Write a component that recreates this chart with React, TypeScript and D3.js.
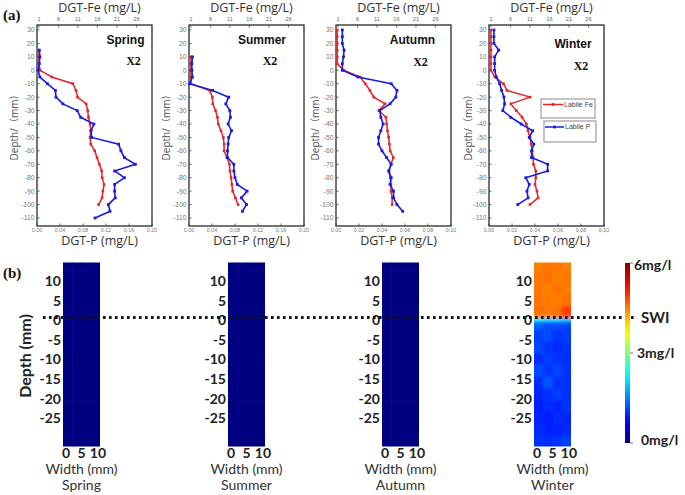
import React from "react";
import * as d3 from "d3";

// ---------- DATA (panel a) ----------
const springPDepth = [15, 10, 5, 0, -5, -10, -15, -20, -25, -30, -35, -40, -45, -50, -55, -60, -65, -70, -75, -80, -85, -90, -95, -100, -105, -110];
const springP = [0.004, 0.005, 0.004, 0.002, 0.005, 0.018, 0.032, 0.033, 0.045, 0.070, 0.076, 0.099, 0.094, 0.095, 0.142, 0.146, 0.152, 0.171, 0.135, 0.152, 0.135, 0.135, 0.136, 0.124, 0.127, 0.101];
const springFeDepth = [15, 10, 5, 0, -5, -10, -15, -20, -25, -30, -35, -40, -45, -50, -55, -60, -65, -70, -75, -80, -85, -90, -95, -100];
const springFe = [1.0, 1.0, 1.0, 1.3, 4.3, 9.7, 10.5, 10.9, 13.1, 13.5, 13.7, 14.1, 14.3, 14.1, 14.3, 15.3, 15.9, 16.5, 17.1, 17.2, 17.7, 17.4, 17.2, 16.3];

const summerPDepth = [10, 5, 0, -5, -10, -15, -20, -25, -30, -35, -40, -45, -50, -55, -60, -65, -70, -75, -80, -85, -90, -95, -100, -105];
const summerP = [0.006, 0.005, 0.005, 0.006, 0.001, 0.041, 0.069, 0.064, 0.071, 0.072, 0.068, 0.074, 0.069, 0.068, 0.067, 0.067, 0.078, 0.078, 0.080, 0.084, 0.101, 0.091, 0.100, 0.093];
const summerFeDepth = [10, 5, 0, -5, -10, -15, -20, -25, -30, -35, -40, -45, -50, -55, -60, -65, -70, -75, -80, -85, -90, -95, -100];
const summerFe = [1.0, 1.0, 1.0, 1.0, 1.0, 5.8, 6.5, 6.6, 7.3, 7.8, 8.0, 8.7, 9.3, 9.5, 9.5, 10.2, 10.9, 11.0, 11.3, 11.5, 11.7, 12.4, 13.1];

const autumnPDepth = [30, 25, 20, 15, 10, 5, 0, -5, -10, -15, -20, -25, -30, -35, -40, -45, -50, -55, -60, -65, -70, -75, -80, -85, -90, -95, -100, -105];
const autumnP = [0.0055, 0.0055, 0.0055, 0.007, 0.0065, 0.0055, 0.0055, 0.019, 0.048, 0.053, 0.052, 0.047, 0.038, 0.039, 0.041, 0.039, 0.037, 0.037, 0.040, 0.044, 0.048, 0.046, 0.048, 0.047, 0.050, 0.050, 0.053, 0.058];
const autumnFeDepth = [30, 25, 20, 15, 10, 5, 0, -5, -10, -15, -20, -25, -30, -35, -40, -45, -50, -55, -60, -65, -70, -75, -80, -85, -90, -95, -100];
const autumnFe = [0.8, 0.8, 0.8, 0.8, 0.8, 0.8, 2.5, 6.7, 8.0, 9.2, 10.2, 13.1, 11.5, 13.3, 13.5, 13.7, 14.0, 14.2, 14.4, 15.2, 14.6, 14.0, 14.4, 14.6, 14.6, 14.9, 14.9];

const winterPDepth = [30, 25, 20, 15, 10, 5, 0, -5, -10, -15, -20, -25, -30, -35, -40, -45, -50, -55, -60, -65, -70, -75, -80, -85, -90, -95, -100];
const winterP = [0.0043, 0.0043, 0.0043, 0.0084, 0.0049, 0.0049, 0.0049, 0.0064, 0.0093, 0.011, 0.013, 0.0136, 0.012, 0.019, 0.028, 0.038, 0.035, 0.039, 0.037, 0.037, 0.051, 0.051, 0.032, 0.035, 0.033, 0.034, 0.025];
const winterFeDepth = [30, 25, 20, 15, 10, 5, 0, -5, -10, -15, -20, -25, -30, -35, -40, -45, -50, -55, -60, -65, -70, -75, -80, -85, -90, -95, -100];
const winterFe = [1.0, 1.0, 1.0, 1.0, 1.0, 1.0, 1.0, 2.0, 4.2, 5.1, 11.0, 6.1, 7.5, 9.0, 10.1, 10.5, 11.0, 11.3, 11.6, 11.8, 11.9, 12.5, 12.5, 12.3, 12.8, 13.1, 11.0];

const seasons = ["Spring", "Summer", "Autumn", "Winter"];
const depthTicksA = [30, 20, 10, 0, -10, -20, -30, -40, -50, -60, -70, -80, -90, -100, -110];
const feTicks = [1, 6, 11, 16, 21, 26];
const pTicksWide = [0, 0.04, 0.08, 0.12, 0.16, 0.2];
const pTicksNarrow = [0, 0.02, 0.04, 0.06, 0.08, 0.1];
const legendLabels = ["Labile Fe", "Labile P"];

// ---------- DATA (panel b) ----------
const depthTicksB = [10, 5, 0, -5, -10, -15, -20, -25];
const widthTicks = [0, 5, 10];
const colorTicks = [0, 3, 6];
const colorTickLabels = ["0mg/l", "3mg/l", "6mg/l"];
const imageColEdges = [-1, 2, 5, 8, 11];
const imageRowEdges = [14.2, 12, 9, 6, 3, 1, 0, -1, -3, -6, -9, -12, -15, -18, -21, -24, -27, -30, -32.8];
const zeroGrid = [[0, 0, 0, 0], [0, 0, 0, 0], [0, 0, 0, 0], [0, 0, 0, 0], [0, 0, 0, 0], [0, 0, 0, 0], [0, 0, 0, 0], [0, 0, 0, 0], [0, 0, 0, 0], [0, 0, 0, 0], [0, 0, 0, 0], [0, 0, 0, 0], [0, 0, 0, 0], [0, 0, 0, 0], [0, 0, 0, 0], [0, 0, 0, 0], [0, 0, 0, 0], [0, 0, 0, 0]];
const winterGrid = [
  [4.5, 4.55, 4.55, 4.5],
  [4.55, 4.6, 4.5, 4.55],
  [4.55, 4.5, 4.6, 4.5],
  [4.55, 4.55, 4.5, 4.6],
  [4.6, 4.55, 4.6, 4.9],
  [4.5, 4.5, 4.55, 4.8],
  [2.1, 2.0, 2.0, 1.9],
  [1.3, 1.2, 1.2, 1.15],
  [1.1, 1.2, 1.05, 1.1],
  [1.15, 1.05, 1.0, 1.05],
  [1.0, 1.1, 1.05, 1.0],
  [1.2, 1.05, 1.15, 1.05],
  [1.0, 1.25, 1.05, 1.05],
  [0.95, 1.05, 1.1, 1.05],
  [0.9, 1.0, 0.95, 1.05],
  [0.95, 0.9, 1.0, 0.95],
  [1.0, 0.95, 0.95, 1.0],
  [1.05, 1.0, 1.05, 1.1],
];
const gridsB = [zeroGrid, zeroGrid, zeroGrid, winterGrid];

// ---------- LAYOUT ----------
const RED = "#e2262a";
const BLUE = "#1c1cdc";
const layoutA = [
  { left: 37, labX: 125.5, labY: 40, x2Y: 61, pTicks: pTicksWide, ylabX: 14 },
  { left: 189, labX: 262, labY: 40, x2Y: 61, pTicks: pTicksWide, ylabX: 166 },
  { left: 336, labX: 412.5, labY: 40, x2Y: 62, pTicks: pTicksNarrow, ylabX: 315 },
  { left: 489, labX: 573, labY: 44, x2Y: 66, pTicks: pTicksNarrow, ylabX: 468 },
];
const seriesA = [
  { p: [springPDepth, springP], fe: [springFeDepth, springFe] },
  { p: [summerPDepth, summerP], fe: [summerFeDepth, summerFe] },
  { p: [autumnPDepth, autumnP], fe: [autumnFeDepth, autumnFe] },
  { p: [winterPDepth, winterP], fe: [winterFeDepth, winterFe] },
];
const boxW = 115;
const boxTop = 25;
const boxBot = 226;
const rectLeftsB = [63, 228, 382, 534];

const jet = (t: number) => {
  const c = (x: number) => Math.max(0, Math.min(1, x));
  const r = c(1.5 - Math.abs(4 * t - 3));
  const g = c(1.5 - Math.abs(4 * t - 2));
  const b = c(1.5 - Math.abs(4 * t - 1));
  return d3.rgb(r * 255, g * 255, b * 255).formatHex();
};

const SANS = "'Liberation Sans', Arial, sans-serif";
const CAL = "Lato, 'Open Sans', sans-serif";

function PanelA({ i }: { i: number }) {
  const L = layoutA[i];
  const S = seriesA[i];
  const yA = d3.scaleLinear().domain([30, -110]).range([30, 218]);
  const xFe = d3.scaleLinear().domain([0.5, 30]).range([L.left, L.left + boxW]);
  const pMax = L.pTicks[L.pTicks.length - 1];
  const xP = d3.scaleLinear().domain([0, pMax]).range([L.left, L.left + boxW]);
  const ptsP = S.p[0].map((d, k) => ({ d, v: S.p[1][k] }));
  const ptsFe = S.fe[0].map((d, k) => ({ d, v: S.fe[1][k] }));
  const lineP = d3.line<any>().x((q) => xP(q.v)).y((q) => yA(q.d));
  const lineFe = d3.line<any>().x((q) => xFe(q.v)).y((q) => yA(q.d));
  const cx = L.left + boxW / 2 + 5;
  return (
    <g>
      <rect x={L.left} y={boxTop} width={boxW} height={boxBot - boxTop} fill="white" stroke="#2a2a2a" strokeWidth={1.3} />
      {depthTicksA.map((t) => (
        <g key={"dy" + t}>
          <line x1={L.left} x2={L.left + 2.5} y1={yA(t)} y2={yA(t)} stroke="#444" strokeWidth={0.8} />
          <text x={L.left - 2.5} y={yA(t)} dy="0.35em" textAnchor="end" fontSize={6.8} fill="#777" fontFamily={SANS}>{t}</text>
        </g>
      ))}
      {feTicks.map((t) => (
        <g key={"fe" + t}>
          <line x1={xFe(t)} x2={xFe(t)} y1={boxTop} y2={boxTop + 2.5} stroke="#444" strokeWidth={0.8} />
          <text x={xFe(t)} y={21} textAnchor="middle" fontSize={5.6} fill="#666" fontFamily={SANS}>{t}</text>
        </g>
      ))}
      {L.pTicks.map((t) => (
        <g key={"p" + t}>
          <line x1={xP(t)} x2={xP(t)} y1={boxBot} y2={boxBot - 2.5} stroke="#444" strokeWidth={0.8} />
          <text x={xP(t)} y={232} textAnchor="middle" fontSize={5.3} fill="#777" fontFamily={SANS}>{t.toFixed(2)}</text>
        </g>
      ))}
      <text x={cx} y={12} textAnchor="middle" fontSize={12.5} fill="#333" fontFamily="'Open Sans', sans-serif">DGT-Fe (mg/L)</text>
      <text x={cx} y={245} textAnchor="middle" fontSize={12.5} fill="#333" fontFamily="'Open Sans', sans-serif">DGT-P (mg/L)</text>
      <text transform={`translate(${L.ylabX},125) rotate(-90)`} textAnchor="middle" dy="0.35em" fontSize={10} fill="#555" fontFamily="'Open Sans', 'Noto Sans CJK SC', sans-serif">Depth/（mm）</text>
      <path d={lineFe(ptsFe) || ""} fill="none" stroke={RED} strokeWidth={1.5} />
      {ptsFe.map((q, k) => (
        <rect key={"fm" + k} x={xFe(q.v) - 1.3} y={yA(q.d) - 1.3} width={2.6} height={2.6} fill={RED} />
      ))}
      <path d={lineP(ptsP) || ""} fill="none" stroke={BLUE} strokeWidth={1.6} />
      {ptsP.map((q, k) => (
        <rect key={"pm" + k} x={xP(q.v) - 1.4} y={yA(q.d) - 1.4} width={2.8} height={2.8} fill={BLUE} />
      ))}
      <text x={L.labX} y={L.labY} dy="0.35em" textAnchor="middle" fontSize={12} fontWeight="bold" fill="#111" fontFamily={SANS}>{seasons[i]}</text>
      <text x={L.labX + 8} y={L.x2Y} dy="0.35em" textAnchor="middle" fontSize={12} fontWeight="bold" fill="#111" fontFamily="'Liberation Serif', 'Times New Roman', serif">X2</text>
    </g>
  );
}

function Legend() {
  const items = [
    { label: legendLabels[0], color: RED, bx: 541, by: 99, bw: 54, bh: 19, ly: 104.5, lx1: 543, lx2: 563 },
    { label: legendLabels[1], color: BLUE, bx: 544, by: 121, bw: 52, bh: 21, ly: 127, lx1: 545, lx2: 564 },
  ];
  return (
    <g>
      {items.map((it) => (
        <g key={it.label}>
          <rect x={it.bx} y={it.by} width={it.bw} height={it.bh} fill="white" stroke="#8a8a8a" strokeWidth={1} />
          <line x1={it.lx1} x2={it.lx2} y1={it.ly} y2={it.ly} stroke={it.color} strokeWidth={1.5} />
          <rect x={(it.lx1 + it.lx2) / 2 - 1.4} y={it.ly - 1.4} width={2.8} height={2.8} fill={it.color} />
          <text x={it.lx2 + 1} y={it.ly} dy="0.35em" fontSize={7} fill="#444" fontFamily={SANS}>{it.label}</text>
        </g>
      ))}
    </g>
  );
}

function PanelB({ i }: { i: number }) {
  const left = rectLeftsB[i];
  const yB = d3.scaleLinear().domain([14.2, -32.8]).range([262.5, 446.5]);
  const xB = d3.scaleLinear().domain([-1, 11]).range([left, left + 37]);
  const grid = gridsB[i];
  const clipId = "clipB" + i;
  return (
    <g>
      <defs>
        <clipPath id={clipId}>
          <rect x={xB(-1)} y={yB(14.2)} width={xB(11) - xB(-1)} height={yB(-32.8) - yB(14.2)} />
        </clipPath>
        <filter id={"blur" + i} x="-10%" y="-10%" width="120%" height="120%">
          <feGaussianBlur stdDeviation={1.6} />
        </filter>
      </defs>
      <g clipPath={`url(#${clipId})`}>
        <g filter={i === 3 ? `url(#blur${i})` : undefined}>
          {grid.map((row, r) =>
            row.map((v, c) => (
              <rect
                key={r + "-" + c}
                x={xB(imageColEdges[c]) - (c === 0 ? 3 : 0)}
                y={yB(imageRowEdges[r]) - (r === 0 ? 3 : 0)}
                width={xB(imageColEdges[c + 1]) - xB(imageColEdges[c]) + 0.6 + (c === 0 || c === row.length - 1 ? 3 : 0)}
                height={yB(imageRowEdges[r + 1]) - yB(imageRowEdges[r]) + 0.6 + (r === 0 || r === grid.length - 1 ? 3 : 0)}
                fill={jet(v / 6)}
              />
            ))
          )}
        </g>
      </g>
      {depthTicksB.map((t) => (
        <text key={t} x={left - 2} y={yB(t) + 2.3} dy="0.35em" textAnchor="end" fontSize={14} fontWeight="bold" fill="#222" fontFamily={CAL}>{t}</text>
      ))}
      {widthTicks.map((t) => (
        <text key={"w" + t} x={xB(t) + (t === 10 ? 1 : 0)} y={458} textAnchor="middle" fontSize={14} fontWeight="bold" fill="#222" fontFamily={CAL}>{t}</text>
      ))}
      <text x={xB(5)} y={469.5} dy="0.35em" textAnchor="middle" fontSize={14} fill="#333" fontFamily={CAL}>Width (mm)</text>
      <text x={xB(5)} y={485.5} dy="0.35em" textAnchor="middle" fontSize={14} fill="#333" fontFamily={CAL}>{seasons[i]}</text>
    </g>
  );
}

function ColorBar() {
  const yC = d3.scaleLinear().domain([0, 6]).range([443, 263]);
  const stops = d3.range(0, 1.0001, 0.05);
  return (
    <g>
      <defs>
        <linearGradient id="jetGrad" x1="0" y1="1" x2="0" y2="0">
          {stops.map((s) => (
            <stop key={s} offset={s} stopColor={jet(s)} />
          ))}
        </linearGradient>
      </defs>
      <rect x={625} y={yC(6)} width={5} height={yC(0) - yC(6)} fill="url(#jetGrad)" />
      {colorTicks.map((t, k) => (
        <g key={t}>
          <line x1={630} x2={633} y1={yC(t)} y2={yC(t)} stroke="#555" strokeWidth={0.8} />
          <text x={t === 6 ? 634 : t === 3 ? 637 : 641} y={yC(t) + (t === 6 ? 2 : t === 0 ? -3 : 0)} dy="0.35em" fontSize={14} fontWeight="bold" fill="#222" fontFamily={CAL}>{colorTickLabels[k]}</text>
        </g>
      ))}
    </g>
  );
}

export default function App() {
  const yB = d3.scaleLinear().domain([14.2, -32.8]).range([262.5, 446.5]);
  const swiY = yB(0) - 0.5;
  return (
    <svg width={685} height={495} style={{ position: "absolute", left: 0, top: 0, background: "white" }}>
      <rect x={0} y={0} width={685} height={495} fill="white" />
      <text x={3} y={20} fontSize={15} fontWeight="bold" fill="#111" fontFamily="'Liberation Serif', serif">(a)</text>
      <text x={3} y={278} fontSize={15} fontWeight="bold" fill="#111" fontFamily="'Liberation Serif', serif">(b)</text>
      {layoutA.map((_, i) => (
        <PanelA key={i} i={i} />
      ))}
      <Legend />
      {rectLeftsB.map((_, i) => (
        <PanelB key={i} i={i} />
      ))}
      <text transform="translate(25,356) rotate(-90)" textAnchor="middle" dy="0.35em" fontSize={16} fontWeight="bold" fill="#222" fontFamily={CAL}>Depth (mm)</text>
      <line x1={43} x2={636} y1={swiY} y2={swiY} stroke="#111" strokeWidth={3} strokeDasharray="2.6 3.4" />
      <text x={641} y={swiY} dy="0.35em" fontSize={15} fontWeight="bold" fill="#222" fontFamily={CAL}>SWI</text>
      <ColorBar />
    </svg>
  );
}
